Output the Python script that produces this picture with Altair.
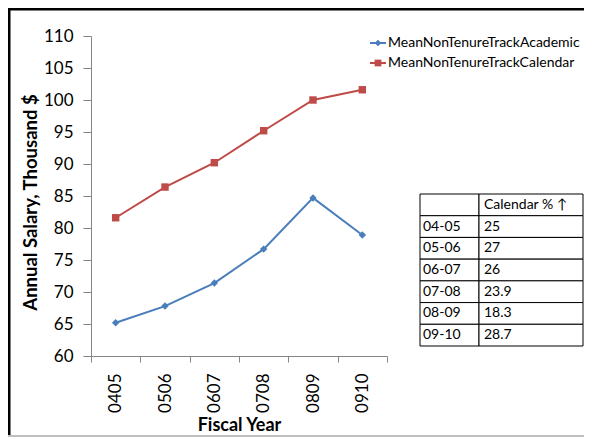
import altair as alt
import pandas as pd

years = ["0405", "0506", "0607", "0708", "0809", "0910"]
series_names = ["MeanNonTenureTrackAcademic", "MeanNonTenureTrackCalendar"]
academic = [65.2, 67.8, 71.4, 76.7, 84.7, 78.9]
calendar = [81.6, 86.4, 90.2, 95.2, 100.0, 101.6]
y_ticks = [60, 65, 70, 75, 80, 85, 90, 95, 100, 105, 110]

table_years = ["04-05", "05-06", "06-07", "07-08", "08-09", "09-10"]
table_pct = ["25", "27", "26", "23.9", "18.3", "28.7"]
table_header = ["", "Calendar % \u2191"]

colors = ["#4A7EBB", "#BE4B48"]
shapes = ["diamond", "square"]
FONT = "Lato"

rows = []
for i, y in enumerate(years):
    rows.append({"year": y, "series": series_names[0], "value": academic[i]})
    rows.append({"year": y, "series": series_names[1], "value": calendar[i]})
df = pd.DataFrame(rows)

x_enc = alt.X("year:N", bandPosition=0.5,
              scale=alt.Scale(type="band", domain=years, paddingInner=0, paddingOuter=0),
              axis=alt.Axis(title="Fiscal Year", labelAngle=270, tickBand="extent",
                            tickSize=6, labelPadding=11, titlePadding=4,
                            labelFontSize=17, labelFont=FONT, labelColor="black",
                            titleFontSize=18, titleFont=FONT, titleFontWeight="bold",
                            titleColor="black", domainColor="#868686", tickColor="#868686",
                            labelOverlap=False, grid=False))
y_enc = alt.Y("value:Q",
              scale=alt.Scale(domain=[60, 110], zero=False, nice=False),
              axis=alt.Axis(title="Annual Salary, Thousand $", values=y_ticks,
                            tickSize=8, labelPadding=10, titlePadding=3, titleY=166,
                            labelFontSize=17, labelFont=FONT, labelColor="black",
                            titleFontSize=18.5, titleFont=FONT, titleFontWeight="bold",
                            titleColor="black", domainColor="#868686", tickColor="#868686",
                            labelOverlap=False, labelBound=False, grid=False))
color_enc = alt.Color("series:N", scale=alt.Scale(domain=series_names, range=colors), legend=None)
shape_enc = alt.Shape("series:N", scale=alt.Scale(domain=series_names, range=shapes), legend=None)

base = alt.Chart(df)
lines = base.mark_line(strokeWidth=2).encode(x=x_enc, y=y_enc, color=color_enc, detail="series:N")
points = base.mark_point(filled=True, size=55, opacity=1).encode(
    x=x_enc, y=y_enc, color=color_enc, shape=shape_enc)
main = alt.layer(lines, points)

# Legend (manual, to show line + marker)
legend_layers = []
legend_y = [7, 27]
for i, name in enumerate(series_names):
    d = alt.Data(values=[{"name": name}])
    legend_layers.append(alt.Chart(d).mark_rule(strokeWidth=2, color=colors[i]).encode(
        x=alt.value(279), x2=alt.value(295), y=alt.value(legend_y[i])))
    legend_layers.append(alt.Chart(d).mark_point(filled=True, opacity=1, size=45,
                                                 shape=shapes[i], color=colors[i]).encode(
        x=alt.value(287), y=alt.value(legend_y[i])))
    legend_layers.append(alt.Chart(d).mark_text(align="left", baseline="middle", font=FONT,
                                                fontSize=14, color="black").encode(
        x=alt.value(297), y=alt.value(legend_y[i]), text="name:N"))

# Table
trows = [{"idx": 0, "c1": table_header[0], "c2": table_header[1]}]
for i, (yy, p) in enumerate(zip(table_years, table_pct)):
    trows.append({"idx": i + 1, "c1": yy, "c2": p})
tdf = pd.DataFrame(trows)
ty = alt.Y("idx:O", scale=alt.Scale(type="band", domain=list(range(7)), range=[158, 310],
                                    paddingInner=0, paddingOuter=0), axis=None)
tbase = alt.Chart(tdf)
t_rect1 = tbase.mark_rect(fill="white", stroke="black", strokeWidth=1).encode(
    x=alt.value(329), x2=alt.value(388), y=ty)
t_rect2 = tbase.mark_rect(fill="white", stroke="black", strokeWidth=1).encode(
    x=alt.value(388), x2=alt.value(492), y=ty)
t_text1 = tbase.mark_text(align="left", baseline="middle", font=FONT, fontSize=14,
                          color="black").encode(x=alt.value(332), y=ty, text="c1:N")
t_text2 = tbase.mark_text(align="left", baseline="middle", font=FONT, fontSize=14,
                          color="black").encode(x=alt.value(393), y=ty, text="c2:N")
table = alt.layer(t_rect1, t_rect2, t_text1, t_text2)

# Frame
fd = alt.Data(values=[{"a": 1}])
frame_top = alt.Chart(fd).mark_rule(color="black", strokeWidth=3).encode(
    x=alt.value(-83), x2=alt.value(500), y=alt.value(-27))
frame_left = alt.Chart(fd).mark_rule(color="black", strokeWidth=3).encode(
    x=alt.value(-82), y=alt.value(-28), y2=alt.value(402))
frame_bottom = alt.Chart(fd).mark_rule(color="#bfbfbf", strokeWidth=2).encode(
    x=alt.value(-83), x2=alt.value(500), y=alt.value(400))

chart = alt.layer(
    main, table, *legend_layers, frame_top, frame_left, frame_bottom
).resolve_scale(x="independent", y="independent").properties(
    width=296, height=320,
    autosize=alt.AutoSizeParams(type="none"),
    padding={"left": 83, "top": 28, "right": 197, "bottom": 81},
    background="white",
).configure_view(strokeWidth=0)

chart.save("out.html", embed_options={"renderer": "svg", "actions": False})
